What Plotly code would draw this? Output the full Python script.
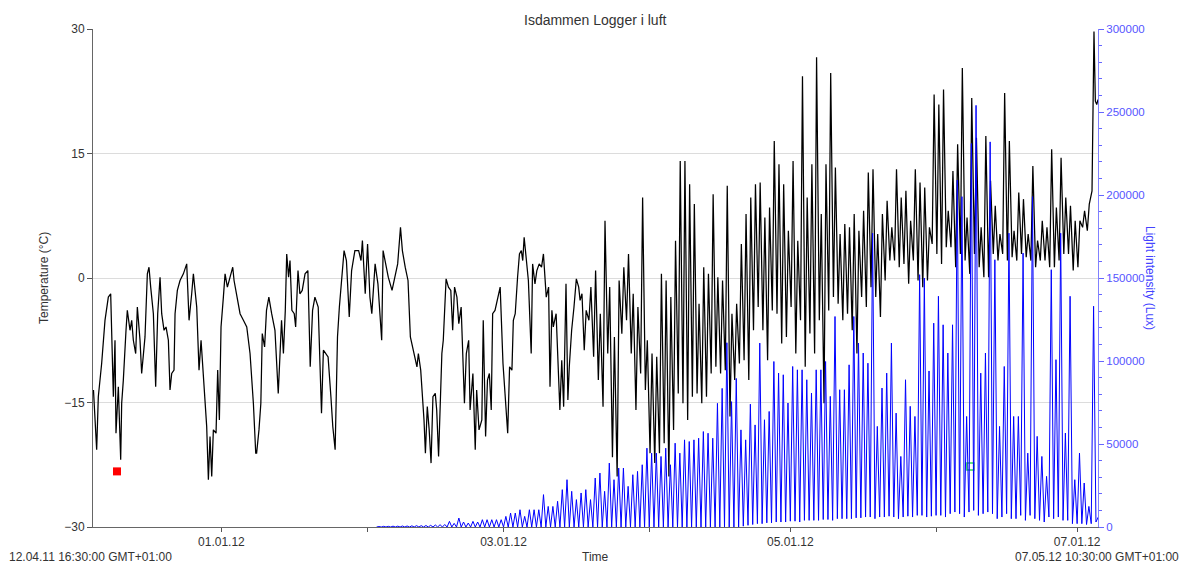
import pandas as pd
import plotly.graph_objects as go

start = pd.Timestamp("2011-12-04 16:30")
end = pd.Timestamp("2012-07-05 10:30")

# --- Temperature, slow winter part: day offsets from start and values (°C)
temp_a_days = [0.1, 0.78, 1.13, 1.84, 2.55, 3.26, 3.76, 4.33, 4.68, 4.89, 5.39, 5.89, 6.1, 6.45, 7.02, 7.3,
               7.87, 8.23, 8.58, 9.08, 9.43, 10.0, 10.35, 11.06, 11.56, 11.91, 12.27, 12.84, 13.33, 13.76,
               14.26, 14.61, 15.11, 15.53, 16.03, 16.38, 16.74, 17.23, 17.45, 17.94, 18.51, 19.22, 19.93,
               20.43, 20.99, 21.35, 22.06, 22.55, 22.98, 23.48, 24.18, 24.54, 24.89, 25.25, 25.6, 26.17,
               26.52, 26.88, 27.23, 27.73, 28.09, 28.58, 29.15, 29.72, 30.0, 30.57, 31.28, 31.99, 32.7,
               33.4, 34.11, 34.61,
               34.8, 35.3, 35.7, 36.0, 36.5, 36.9, 37.4, 38.0, 38.7, 39.4, 39.8, 40.1, 40.5, 40.9, 41.2,
               41.6, 41.9, 42.3, 42.8, 43.1, 43.6, 44.0, 44.5, 45.1, 45.7, 46.2, 46.7, 47.2, 47.9, 48.4,
               48.6, 49.0, 49.5, 50.0, 50.6, 51.0, 51.5, 52.0, 52.4, 52.9, 53.4, 53.9, 54.5, 55.0, 55.7,
               56.5, 57.0, 57.3, 57.9, 58.4, 58.9, 59.3, 60.0, 60.6, 61.1, 61.4, 61.7, 62.3, 62.8, 63.6,
               64.3, 64.8, 65.4, 65.8, 66.4, 67.0, 67.5, 68.2, 68.9, 69.2, 69.7,
               70.4, 70.7, 71.1, 71.5, 71.9, 72.3, 72.8, 73.1, 73.5, 73.8, 74.2, 74.5, 75.1, 75.6, 76.1,
               76.5, 76.9, 77.4, 77.8, 78.3, 78.8, 79.0, 79.4, 79.9, 80.2, 80.8, 81.3, 81.6, 82.1, 82.7,
               83.0, 83.5, 83.9, 84.3, 84.7, 85.0, 85.5, 86.0, 86.6, 87.2, 87.7, 88.2, 88.6, 89.1, 89.4,
               89.8, 90.3, 90.7, 91.1, 91.4, 91.7, 92.1, 92.6, 93.2, 93.5, 94.0, 94.4, 94.9, 95.4, 95.8,
               96.4, 96.9, 97.2, 97.6, 97.9, 98.5, 99.0, 99.3, 99.7, 100.1, 100.6, 101.0, 101.3, 101.8,
               102.3, 102.8, 103.3, 103.6, 104.0]
temp_a_vals = [-13.5, -20.7, -14.3, -10.3, -5.1, -2.3, -1.9, -14.3, -7.5, -18.7, -13.1, -21.9, -15.1, -12.3,
               -6.3, -3.9, -6.3, -5.1, -7.5, -9.1, -3.5, -7.5, -11.5, -7.1, 0.5, 1.3, -1.1, -4.3, -13.1,
               -4.3, 0.1, -4.3, -6.3, -5.9, -7.5, -13.5, -11.5, -11.1, -4.3, -1.5, -0.3, 0.5, 1.7, -5.1,
               -1.9, 0.5, -3.5, -11.1, -7.5, -12.3, -17.9, -24.3, -19.1, -23.9, -18.3, -18.7, -11.1, -17.1,
               -5.9, -2.3, 0.5, -1.1, 0.1, 1.3, -0.3, -2.3, -4.3, -5.1, -5.9, -9.1, -15.1, -21.1,
               -21.1, -18.3, -15.1, -6.7, -8.3, -3.9, -2.3, -4.3, -6.3, -13.9, -8.3, -5.1, -9.1, -3.9, 2.9,
               0.1, 2.1, -3.9, -4.3, -5.9, 0.9, -1.9, -1.5, 0.5, 0.9, -10.7, -3.9, -2.3, -3.5, -11.5,
               -16.3, -8.7, -9.1, -9.5, -14.3, -17.9, -20.7, -7.1, -3.5, 0.5, 3.3, 2.1, -4.7, 0.9, 3.3,
               3.3, 2.1, 4.5, -1.9, 4.1, -2.3, -4.3, 1.7, -0.7, -5.1, -7.5, 3.3, 1.7, 0.1, -1.5,
               0.5, 1.7, 6.1, 3.3, 1.3, -0.3, -7.1, -9.1, -10.7, -9.1, -11.1,
               -17.1, -21.1, -15.5, -18.3, -22.3, -14.3, -13.9, -15.9, -21.5, -14.7, -9.1, -7.5, -0.1, -1.1,
               -1.5, -6.3, -1.1, -2.3, -5.5, -3.5, -11.1, -15.1, -9.1, -7.5, -15.9, -11.5, -20.7, -13.5,
               -18.3, -17.1, -5.1, -19.1, -12.3, -11.5, -15.9, -4.3, -3.9, -2.7, -1.1, -10.3, -14.3, -18.7,
               -10.7, -11.1, -5.1, -4.3, 0.1, 2.9, 3.3, 2.1, 4.9, 2.9, -0.3, -9.1, 1.7, -0.7, 0.9, 1.7,
               1.3, 2.9, -2.3, -1.1, -13.1, -3.9, -5.9, -4.3, -11.1, -15.9, -9.9, -15.5, -0.7, -14.7,
               -10.7, -6.3, -3.5, -0.1, -1.1, -2.7, -1.9]

# --- Temperature, daily min / max from 18 March 2012 to 4 July 2012 (°C)
temp_b_first_day = "2012-03-18"
temp_b_min = [-8.7, -5.1, -9.5, -12.3, -15.5, -9.1, -21.6, -23.9, -6.7, -5.1, -9.1, -15.9, -11.5, -13.5,
              -21.1, -22.3, -21.1, -19.9, -23.9, -18.3, -13.9, -15.1, -17.1, -14.3, -13.9, -15.1, -14.3,
              -11.5, -10.7, -11.5, -11.1, -16.7, -12.3, -10.3, -9.9, -12.3, -6.3, -3.5, -6.3, -9.9, -3.9,
              -4.3, -7.9, -7.1, -3.5, -9.1, -5.1, -10.7, -6.7, -9.1, -5.1, -15.1, -3.9, -2.3, -3.1, -5.1,
              -4.3, -6.3, -9.1, -2.3, -3.5, -1.1, -2.3, -4.7, -0.3, 2.1, 2.1, 1.3, 1.7, -0.7, 2.1, -0.3,
              -1.1, -0.3, 4.1, 2.9, 1.7, 3.7, 3.7, 1.3, 2.9, 2.1, 0.5, 2.9, 1.3, 0.1, 0.1, 2.9, 2.1, 2.9,
              2.1, 2.5, 2.1, 2.9, 2.5, 2.1, 1.3, 2.1, 2.1, 1.3, 1.3, 2.1, 2.9, 2.9, 0.9, 1.3, 6.1, 5.7,
              10.5]
temp_b_max = [-3.9, -1.1, 0.9, -4.3, 6.9, -1.1, -7.1, -0.3, 1.3, 2.9, -1.9, -3.5, 9.7, -7.5, -9.1, -9.5,
              0.5, -0.3, -2.3, 4.5, 14.1, 14.1, 11.3, 8.9, -3.1, 1.3, 0.5, 10.1, 0.1, -0.3, 11.1, -4.3,
              -3.1, 4.1, 7.7, 9.7, 11.3, 11.5, 7.3, 8.5, 16.5, 13.7, 11.3, 5.7, 14.1, 4.5, 24.3, 9.7,
              13.7, 26.6, 7.7, 13.7, 24.7, 13.3, 5.3, 6.5, 6.1, 7.7, 5.7, 8.1, 12.7, 13.1, 5.3, 7.7, 9.3,
              6.1, 13.1, 9.7, 10.5, 6.9, 13.1, 11.5, 10.9, 6.1, 22.1, 20.9, 22.7, 8.1, 12.9, 16.1, 25.3,
              7.3, 21.7, 16.9, 6.1, 17.1, 11.7, 8.7, 5.3, 22.3, 16.5, 5.7, 10.3, 9.5, 5.3, 13.5, 4.5,
              6.9, 6.1, 15.5, 8.5, 14.5, 9.7, 8.7, 6.9, 6.9, 8.1, 8.9, 29.7]
temp_tail_times = ["2012-07-04 21:00", "2012-07-05 04:00", "2012-07-05 10:30"]
temp_tail_vals = [21.3, 20.9, 21.5]

# --- Light intensity (Lux): daily night minimum and daytime peak from 3 Feb 2012
lux_first_day = "2012-02-03"
lux_max = [300, 400, 400, 500, 500, 600, 600, 700, 800, 800, 900, 1000, 1200, 1400, 1500, 3400,
           2200, 5400, 3000, 2400, 3400, 3000, 4400, 4400, 4400, 4400, 4400, 6400, 8400, 8400, 10400,
           6400, 10400, 10400, 10400, 19500, 12400, 12400, 15500, 22500, 28500, 21500, 16500, 20500,
           22500, 16500, 29500, 32500, 21500, 38500, 28500, 35500, 35500, 24500, 31500, 33500, 37500,
           47500, 44500, 44500, 42500, 47500, 37500, 50500, 44500, 52500, 51500, 52500, 53500, 57500,
           56500, 53500, 74500, 83500, 111000, 75500, 89500, 58500, 52500, 74000, 61500, 110800, 64600,
           69600, 99700, 92700, 91700, 74700, 96700, 94700, 94700, 88700, 80700, 94700, 94700, 99700,
           78700, 126800, 82700, 82700, 97700, 126800, 110800, 104800, 98700, 177000, 60600, 83700,
           92700, 110800, 68600, 42500, 88700, 72700, 66600, 152000, 150000, 94000, 122800, 139000,
           121800, 104800, 121800, 209000, 199000, 66600, 231000, 254000, 92700, 104800, 232000,
           161000, 60600, 96700, 177000, 66600, 66600, 165000, 44500, 199000, 54600, 42500, 30500,
           155000, 100800, 177000, 56600, 139000, 28500, 44500, 26500, 12400, 133000, 6000]
lux_min = [0] * 78 + [500, 1000, 1500, 2000, 2000, 2500, 2500, 3000, 3000, 3000, 3500, 3500, 3000, 4000,
                      4000, 4000, 4000, 4500, 4500, 4000, 5000, 5000, 5000, 5000, 5500, 5500, 6000, 6000,
                      5000, 6000, 6000, 6500, 6000, 5000, 6000, 6500, 6000, 7000, 7000, 6000, 6500, 7000,
                      7000, 6000, 8000, 9000, 8000, 6000, 9000, 10000, 7000, 8000, 9000, 8000, 5000, 6000,
                      8000, 5000, 5000, 7000, 4000, 7000, 5000, 4000, 3000, 6000, 5000, 6000, 4000, 4000,
                      2000, 2000, 2000, 1500, 2000, 3000]

# --- Event markers
event_red_day, event_red_temp = 5.1, -23.3
event_green_day, event_green_temp = 186.6, -22.7

# --- x-axis ticks
tick_dates = ["2012-01-01", "2012-02-01", "2012-03-01", "2012-04-01", "2012-05-01", "2012-06-01", "2012-07-01"]
tick_text = ["01.01.12", "", "03.01.12", "", "05.01.12", "", "07.01.12"]

# build temperature series
tx = list(start + pd.to_timedelta(temp_a_days, unit="D"))
ty = list(temp_a_vals)
for d, lo, hi in zip(pd.date_range(temp_b_first_day, periods=len(temp_b_max), freq="D"), temp_b_min, temp_b_max):
    tx += [d + pd.Timedelta(hours=4), d + pd.Timedelta(hours=14)]
    ty += [lo, hi]
tx += list(pd.to_datetime(temp_tail_times))
ty += temp_tail_vals

# build light series
lx, ly = [], []
for d, lo, hi in zip(pd.date_range(lux_first_day, periods=len(lux_max), freq="D"), lux_min, lux_max):
    lx += [d, d + pd.Timedelta(hours=12)]
    ly += [lo, hi]

FONT = "Liberation Sans, Arial, sans-serif"
fig = go.Figure()
fig.add_trace(go.Scatter(x=tx, y=ty, mode="lines", line=dict(color="#000000", width=1.25), yaxis="y",
                         hoverinfo="skip"))
fig.add_trace(go.Scatter(x=lx, y=ly, mode="lines", line=dict(color="#0000ff", width=1), yaxis="y2",
                         hoverinfo="skip"))
fig.add_trace(go.Scatter(x=[start + pd.Timedelta(days=event_red_day)], y=[event_red_temp], mode="markers",
                         marker=dict(symbol="square", size=8, color="#ff0000", line=dict(width=0)), yaxis="y"))
fig.add_trace(go.Scatter(x=[start + pd.Timedelta(days=event_green_day)], y=[event_green_temp], mode="markers",
                         marker=dict(symbol="square", size=7, color="#ffffff", line=dict(width=1.5, color="#33dd55")),
                         yaxis="y"))

def px_x(p):
    return (p - 93) / 1005.0

def px_y(p):
    return (527 - p) / 498.0

fig.update_layout(
    width=1183, height=563,
    margin=dict(l=93, r=85, t=29, b=36),
    plot_bgcolor="white", paper_bgcolor="white",
    showlegend=False,
    font=dict(family=FONT, size=12, color="#333333"),
    xaxis=dict(range=[start, end], tickvals=tick_dates, ticktext=tick_text, ticks="outside", ticklen=4,
               tickcolor="#555555", showline=True, linecolor="#666666", linewidth=1, showgrid=False,
               zeroline=False, tickfont=dict(size=12, color="#333333")),
    yaxis=dict(range=[-30, 30], tickvals=[-30, -15, 0, 15, 30], ticks="outside", ticklen=5,
               tickcolor="#555555", showline=True, linecolor="#666666", linewidth=1, showgrid=True,
               gridcolor="#dcdcdc", zeroline=False, tickfont=dict(size=12, color="#333333")),
    yaxis2=dict(range=[0, 300000], overlaying="y", side="right",
                tickvals=[0, 50000, 100000, 150000, 200000, 250000, 300000],
                ticktext=["0", "50000", "100000", "150000", "200000", "250000", "300000"],
                ticks="outside", ticklen=5, tickcolor="#6666ff", showline=True, linecolor="#8080ff",
                linewidth=1, showgrid=False, zeroline=False, tickfont=dict(size=11.5, color="#5555ff"),
                minor=dict(dtick=10000, ticks="outside", ticklen=3, tickcolor="#6666ff", showgrid=False)),
    annotations=[
        dict(text="Isdammen Logger i luft", x=0.5, y=px_y(20), xref="paper", yref="paper", showarrow=False,
             xanchor="center", yanchor="middle", font=dict(size=14, color="#333333")),
        dict(text="Temperature (°C)", x=px_x(44), y=0.5, xref="paper", yref="paper", showarrow=False,
             textangle=-90, xanchor="center", yanchor="middle", font=dict(size=12, color="#333333")),
        dict(text="Light intensity (Lux)", x=px_x(1150), y=0.5, xref="paper", yref="paper", showarrow=False,
             textangle=90, xanchor="center", yanchor="middle", font=dict(size=12, color="#4444ff")),
        dict(text="Time", x=px_x(595), y=px_y(557), xref="paper", yref="paper", showarrow=False,
             xanchor="center", yanchor="middle", font=dict(size=12, color="#333333")),
        dict(text="12.04.11 16:30:00 GMT+01:00", x=px_x(7), y=px_y(557), xref="paper", yref="paper",
             showarrow=False, xanchor="left", yanchor="middle", font=dict(size=12, color="#333333")),
        dict(text="07.05.12 10:30:00 GMT+01:00", x=px_x(1181), y=px_y(557), xref="paper", yref="paper",
             showarrow=False, xanchor="right", yanchor="middle", font=dict(size=12, color="#333333")),
    ],
)

fig.write_html("out.html")
